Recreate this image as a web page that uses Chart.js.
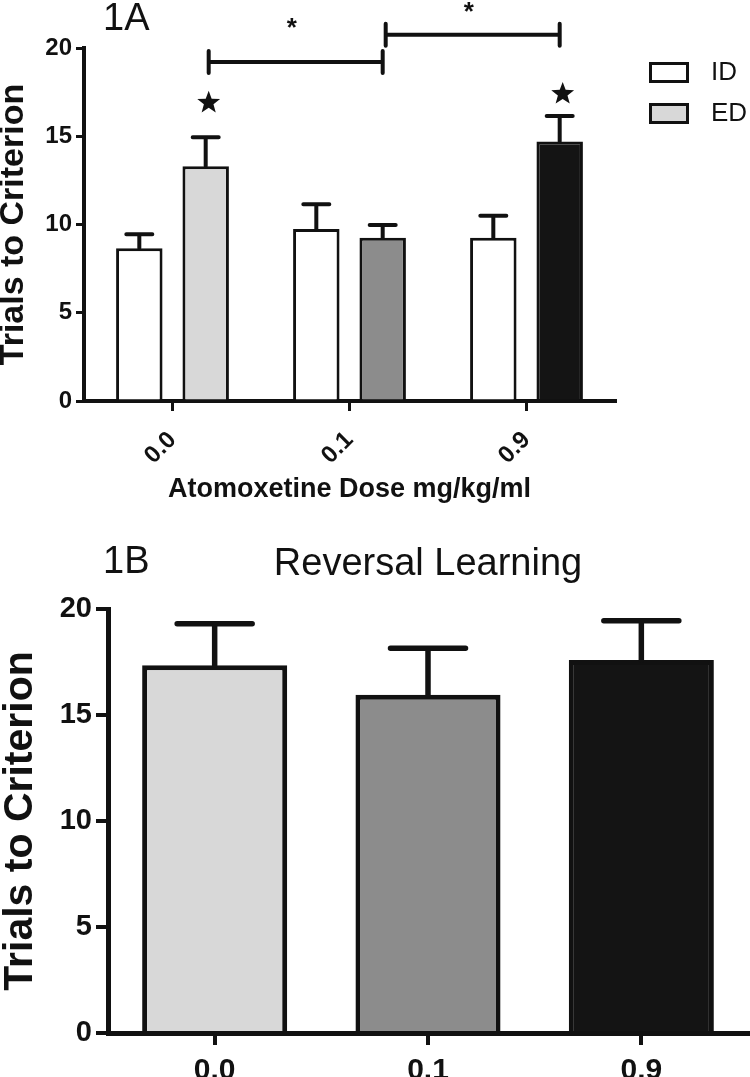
<!DOCTYPE html>
<html lang="en">
<head>
<meta charset="UTF-8">
<title>Atomoxetine - trials to criterion</title>
<script src="https://cdn.jsdelivr.net/npm/chart.js"></script>
<style>
  body { margin: 0; background: #fff; }
  #wrap { position: relative; width: 750px; height: 1077px; }
  #chartA { position: absolute; left: 0; top: 0; }
  #chartB { position: absolute; left: 0; top: 510px; }
</style>
</head>
<body>
<div id="wrap">
  <canvas id="chartA" width="750" height="510"></canvas>
  <canvas id="chartB" width="750" height="567"></canvas>
</div>
<script>
const FONT = '"Liberation Sans", Arial, sans-serif';
const INK = '#111111';

// 1A: ID / ED set shifting
const doses = ['0.0', '0.1', '0.9'];
const idMeans = [8.65, 9.75, 9.25];
const idSem = [0.8, 1.4, 1.25];
const edMeans = [13.3, 9.25, 14.7];
const edSem = [1.65, 0.72, 1.45];
const edColors = ['#d8d8d8', '#8c8c8c', '#141414'];
const legendLabels = ['ID', 'ED'];
const legendColors = ['#ffffff', '#d8d8d8'];
// star above ED bar (null = none)
const starY = [16.9, null, 17.4];
// significance brackets between ED bars
const bracketFrom = [0, 1];
const bracketTo = [1, 2];
const bracketY = [19.2, 20.75];
const asteriskY = [21.5, 22.4];

// 1B: reversal learning
const revMeans = [17.35, 15.95, 17.6];
const revSem = [1.95, 2.2, 1.85];
const revColors = ['#d8d8d8', '#8c8c8c', '#141414'];

// error bars (upper half only), drawn from the sem arrays
const errorBars = {
  id: 'errorBars',
  afterDatasetsDraw(chart, args, opts) {
    const ctx = chart.ctx;
    const y = chart.scales.y;
    ctx.save();
    ctx.strokeStyle = INK;
    ctx.lineWidth = opts.width;
    ctx.lineCap = 'round';
    chart.data.datasets.forEach((ds, i) => {
      chart.getDatasetMeta(i).data.forEach((bar, j) => {
        const top = y.getPixelForValue(ds.data[j] + opts.sem[i][j]);
        ctx.beginPath();
        ctx.moveTo(bar.x, bar.y);
        ctx.lineTo(bar.x, top);
        ctx.moveTo(bar.x - opts.cap / 2, top);
        ctx.lineTo(bar.x + opts.cap / 2, top);
        ctx.stroke();
      });
    });
    ctx.restore();
  }
};

function drawStar(ctx, cx, cy, r) {
  ctx.beginPath();
  for (let k = 0; k < 10; k++) {
    const rad = k % 2 ? r * 0.42 : r;
    const a = -Math.PI / 2 + k * Math.PI / 5;
    ctx.lineTo(cx + rad * Math.cos(a), cy + rad * Math.sin(a));
  }
  ctx.closePath();
  ctx.fill();
}

// stars, brackets, legend and panel label for 1A
const extrasA = {
  id: 'extrasA',
  afterDraw(chart) {
    const ctx = chart.ctx;
    const y = chart.scales.y;
    const ed = chart.getDatasetMeta(1).data;
    const area = chart.chartArea;
    ctx.save();
    ctx.fillStyle = INK;
    ctx.strokeStyle = INK;

    starY.forEach((v, j) => {
      if (v !== null) drawStar(ctx, ed[j].x + 3, y.getPixelForValue(v), 12);
    });

    ctx.lineWidth = 4;
    ctx.lineCap = 'round';
    ctx.font = 'bold 26px ' + FONT;
    ctx.textAlign = 'center';
    ctx.textBaseline = 'alphabetic';
    bracketY.forEach((v, k) => {
      const x1 = ed[bracketFrom[k]].x + 3;
      const x2 = ed[bracketTo[k]].x;
      const py = y.getPixelForValue(v);
      ctx.beginPath();
      ctx.moveTo(x1, py - 11); ctx.lineTo(x1, py + 11);
      ctx.moveTo(x1, py); ctx.lineTo(x2, py);
      ctx.moveTo(x2, py - 11); ctx.lineTo(x2, py + 11);
      ctx.stroke();
      ctx.fillText('*', (x1 + x2) / 2 - 4, y.getPixelForValue(asteriskY[k]) + 14);
    });

    // legend
    const lx = area.right + 34, ly = area.top + 14;
    ctx.lineWidth = 3;
    ctx.font = '26px ' + FONT;
    ctx.textAlign = 'left';
    ctx.textBaseline = 'middle';
    legendLabels.forEach((t, i) => {
      const by = ly + i * 41;
      ctx.fillStyle = legendColors[i];
      ctx.fillRect(lx, by, 40, 21);
      ctx.strokeRect(lx + 1.5, by + 1.5, 37, 18);
      ctx.fillStyle = INK;
      ctx.fillText(t, lx + 62, by + 11);
    });

    ctx.font = '38px ' + FONT;
    ctx.textBaseline = 'alphabetic';
    ctx.fillText('1A', 103, 30);
    ctx.restore();
  }
};

const extrasB = {
  id: 'extrasB',
  afterDraw(chart) {
    const ctx = chart.ctx;
    const area = chart.chartArea;
    ctx.save();
    ctx.fillStyle = INK;
    ctx.font = '38px ' + FONT;
    ctx.textAlign = 'left';
    ctx.fillText('1B', 103, 63);
    ctx.textAlign = 'center';
    ctx.fillText('Reversal Learning', (area.left + area.right) / 2, 65);
    ctx.restore();
  }
};

new Chart(document.getElementById('chartA'), {
  type: 'bar',
  data: {
    labels: doses,
    datasets: [
      { label: 'ID', data: idMeans, backgroundColor: '#ffffff', borderColor: INK, borderWidth: 3 },
      { label: 'ED', data: edMeans, backgroundColor: edColors, borderColor: INK, borderWidth: 3 }
    ]
  },
  options: {
    responsive: false,
    animation: false,
    categoryPercentage: 0.75,
    barPercentage: 0.7,
    layout: { padding: { top: 48, right: 135, left: 0, bottom: 0 } },
    plugins: {
      legend: { display: false },
      tooltip: { enabled: false },
      errorBars: { sem: [idSem, edSem], width: 4, cap: 26 }
    },
    scales: {
      x: {
        offset: true,
        grid: { drawOnChartArea: false, offset: false, tickLength: 10, color: INK, lineWidth: 3 },
        border: { color: INK, width: 4 },
        ticks: { color: INK, font: { family: FONT, size: 24, weight: 'bold' }, minRotation: 45, maxRotation: 45, padding: 15, labelOffset: 0 },
        title: { display: true, text: 'Atomoxetine Dose mg/kg/ml', color: INK, font: { family: FONT, size: 27, weight: 'bold' }, padding: { top: 0, bottom: 4 } },
        afterFit: s => { s.height = 109; }
      },
      y: {
        min: 0, max: 20,
        ticks: { stepSize: 5, color: INK, font: { family: FONT, size: 24, weight: 'bold' }, padding: 4 },
        grid: { drawOnChartArea: false, tickLength: 8, color: INK, lineWidth: 3 },
        border: { color: INK, width: 4 },
        title: { display: true, text: 'Trials to Criterion', color: INK, font: { family: FONT, size: 34, weight: 'bold', lineHeight: 0.8 }, padding: 0 },
        afterFit: s => { s.width = 84; }
      }
    }
  },
  plugins: [errorBars, extrasA]
});

new Chart(document.getElementById('chartB'), {
  type: 'bar',
  data: {
    labels: doses,
    datasets: [
      { label: 'Reversal', data: revMeans, backgroundColor: revColors, borderColor: INK, borderWidth: 5 }
    ]
  },
  options: {
    responsive: false,
    animation: false,
    categoryPercentage: 1,
    barPercentage: 0.68,
    layout: { padding: { top: 99, right: 2, left: 0, bottom: 0 } },
    plugins: {
      legend: { display: false },
      tooltip: { enabled: false },
      errorBars: { sem: [revSem], width: 5.5, cap: 75 }
    },
    scales: {
      x: {
        offset: true,
        grid: { drawOnChartArea: false, offset: false, tickLength: 12, color: INK, lineWidth: 4 },
        border: { color: INK, width: 5 },
        ticks: { color: INK, font: { family: FONT, size: 30, weight: 'bold' }, maxRotation: 0, padding: 8 },
        afterFit: s => { s.height = 44; }
      },
      y: {
        min: 0, max: 20,
        ticks: { stepSize: 5, color: INK, font: { family: FONT, size: 29, weight: 'bold' }, padding: 4 },
        grid: { drawOnChartArea: false, tickLength: 12, color: INK, lineWidth: 4 },
        border: { color: INK, width: 5 },
        title: { display: true, text: 'Trials to Criterion', color: INK, font: { family: FONT, size: 41, weight: 'bold', lineHeight: 1 }, padding: 0 },
        afterFit: s => { s.width = 108; }
      }
    }
  },
  plugins: [errorBars, extrasB]
});
</script>
</body>
</html>
